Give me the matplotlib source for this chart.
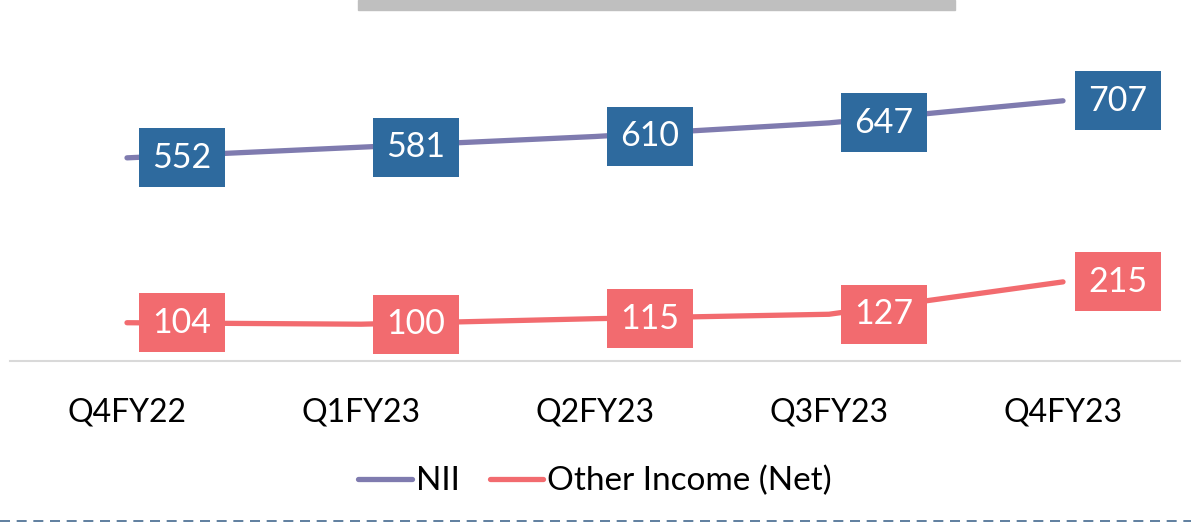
import matplotlib.pyplot as plt
from matplotlib.patches import Rectangle
from matplotlib.lines import Line2D

plt.rcParams['font.family'] = ['Lato', 'DejaVu Sans']

# datos del grafico
trimestres = ['Q4FY22', 'Q1FY23', 'Q2FY23', 'Q3FY23', 'Q4FY23']
nii = [552, 581, 610, 647, 707]
otros = [104, 100, 115, 127, 215]

col_nii = '#7F7BAF'
caja_nii = '#2E6A9E'
col_otros = '#F26B6F'

fig = plt.figure(figsize=(11.91, 5.25), dpi=100)
ax = fig.add_axes([10/1191, 164/525, 1170/1191, 350/525])

x = range(len(trimestres))
ax.plot(x, nii, color=col_nii, lw=3.8, solid_capstyle='round', label='NII')
ax.plot(x, otros, color=col_otros, lw=3.8, solid_capstyle='round', label='Other Income (Net)')

# etiquetas con caja a la derecha del punto
for serie, caja in [(nii, caja_nii), (otros, col_otros)]:
    for i, v in enumerate(serie):
        ax.annotate(str(v), (i, v), xytext=(55, 0), textcoords='offset pixels',
                    ha='center', va='center', fontsize=24.5, color='white',
                    bbox=dict(boxstyle='square,pad=0.4', fc=caja, ec='none'))

ax.set_xlim(-0.5, 4.5)
ax.set_ylim(0, 951)
ax.set_xticks(list(x))
ax.set_xticklabels(trimestres, fontsize=23)
ax.tick_params(axis='x', length=0, pad=26)
ax.set_yticks([])
for s in ['top', 'right', 'left']:
    ax.spines[s].set_visible(False)
ax.spines['bottom'].set_color('#D9D9D9')
ax.spines['bottom'].set_linewidth(1.5)

ax.legend(loc='center', bbox_to_anchor=(0.5, (525 - 481 - 164) / 350),
          ncol=2, frameon=False, fontsize=24, handlelength=1.6, handletextpad=0.12,
          columnspacing=0.9)

# barra gris arriba y linea discontinua abajo
fig.patches.append(Rectangle((358/1191, 515/525), 597/1191, 10/525,
                             transform=fig.transFigure, color='#BFBFBF', zorder=0))
fig.lines.append(Line2D([0, 1], [4/525, 4/525], transform=fig.transFigure,
                        color='#44698F', lw=1.2, dashes=(6, 4)))

fig.savefig('out.png', dpi=100)
